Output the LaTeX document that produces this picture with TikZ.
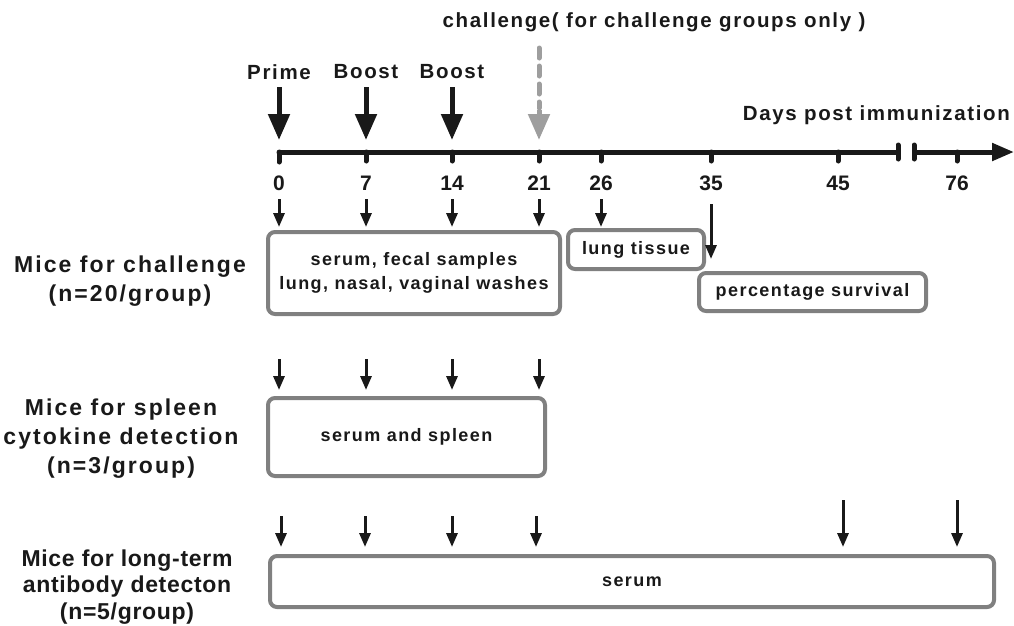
\documentclass[tikz,border=0pt]{standalone}
\usepackage{fontspec}
\setmainfont{Liberation Sans}
\usetikzlibrary{arrows.meta}
\begin{document}
\begin{tikzpicture}[x=1pt,y=-1pt,
  lbl/.style={font=\bfseries\fontsize{23}{29}\selectfont\addfontfeature{LetterSpace=9}, align=center, inner sep=0pt, text=black!90},
  toplbl/.style={font=\bfseries\fontsize{20.5}{24}\selectfont\addfontfeature{LetterSpace=8}, align=center, inner sep=0pt, text=black!90},
  boxtxt/.style={font=\bfseries\fontsize{18}{24}\selectfont\addfontfeature{LetterSpace=8}, align=center, inner sep=0pt, text=black!90},
  num/.style={font=\bfseries\fontsize{21}{22}\selectfont, inner sep=0pt, text=black!90},
  gbox/.style={draw=black!50, line width=4pt, rounded corners=7pt, fill=white},
  bigarr/.style={line width=5pt, draw=black!90, -{Triangle[width=21pt,length=26pt]}},
  smarr/.style={line width=3pt, draw=black!90, -{Triangle[width=11pt,length=14pt]}},
  axis/.style={line width=5pt, draw=black!90}
]
\useasboundingbox (0,0) rectangle (1014,625);

% timeline coordinates
\foreach \n/\x in {d0/279,d7/366,d14/452,d21/539,d26/601,d35/711,d45/838,d76/957}{
  \coordinate (\n) at (\x,152);
}
\coordinate (brA) at (898,152);
\coordinate (brB) at (914,152);
\coordinate (axend) at (1014,152);

\draw[axis, line cap=round] (d0) -- (brA);
\draw[axis, line cap=round] (279,162) -- (d0);
\draw[axis, line cap=round] (brA) ++(0,-7) -- ++(0,14);
\draw[axis, line cap=round] (brB) ++(0,-7) -- ++(0,14);
\draw[axis, -{Triangle[width=17pt,length=22pt]}] (brB) -- (axend);
\foreach \n in {d7,d14,d21,d26,d35,d45,d76}{
  \draw[axis, line cap=round] (\n) -- ++(0,9);
}

% day labels
\foreach \n/\t in {d0/0,d7/7,d14/14,d21/21,d26/26,d35/35,d45/45,d76/76}{
  \node[num] (l\n) at ([yshift=-31pt]\n) {\t};
}
\node[toplbl, anchor=east] (days) at (1010,115) {Days post immunization};

% top arrows
\node[toplbl] (prime) at (279,72) {Prime};
\node[toplbl] (boost1) at (366,72) {Boost};
\node[toplbl] (boost2) at (452,72) {Boost};
\node[toplbl] (chal) at (654,22) {challenge( for challenge groups only )};
\coordinate (pa) at (279,87); \coordinate (pb) at (279,140);
\coordinate (ba) at (366,87); \coordinate (bb) at (366,140);
\coordinate (ca) at (452,87); \coordinate (cb) at (452,140);
\coordinate (ga) at (539,48); \coordinate (gb) at (539,140);
\draw[bigarr] (pa) -- (pb);
\draw[bigarr] (ba) -- (bb);
\draw[bigarr] (ca) -- (cb);
\draw[line width=5pt, draw=black!38, dash pattern=on 10pt off 8pt, line cap=round] (ga) -- (539,108);
\draw[line width=5pt, draw=black!38, -{Triangle[width=21pt,length=26pt]}] (539,110) -- (gb);

% row 1
\node[gbox, minimum width=292pt, minimum height=82pt, anchor=north west] (box1) at (266,230) {};
\node[boxtxt] (box1t) at (box1.center) {serum, fecal samples\\lung, nasal, vaginal washes};
\node[gbox, minimum width=136pt, minimum height=39pt, anchor=north west] (box2) at (566,228) {};
\node[boxtxt] at (box2.center) {lung tissue};
\node[gbox, minimum width=227pt, minimum height=38pt, anchor=north west] (box3) at (697,271) {};
\node[boxtxt] at (box3.center) {percentage survival};
\node[lbl] (row1) at (130,281) {Mice for challenge\\(n=20/group)};
\foreach \x in {279,366,452,539,601}{
  \draw[smarr] (\x,199) -- (\x,227);
}
\draw[smarr] (711,204) -- (711,259);

% row 2
\node[gbox, minimum width=277pt, minimum height=78pt, anchor=north west] (box4) at (266,396) {};
\node[boxtxt] at (box4.center) {serum and spleen};
\node[lbl] (row2) at (121,439) {Mice for spleen\\cytokine detection\\(n=3/group)};
\foreach \x in {279,366,452,539}{
  \draw[smarr] (\x,359) -- (\x,390);
}

% row 3
\node[gbox, minimum width=724pt, minimum height=51pt, anchor=north west] (box5) at (268,554) {};
\node[boxtxt] at (box5.center) {serum};
\node[lbl, font=\bfseries\fontsize{23}{26.5}\selectfont\addfontfeature{LetterSpace=3}] (row3) at (127,587) {Mice for long-term\\antibody detecton\\(n=5/group)};
\foreach \x in {281,365,452,536}{
  \draw[smarr] (\x,516) -- (\x,547);
}
\foreach \x in {843,957}{
  \draw[smarr] (\x,500) -- (\x,547);
}
\end{tikzpicture}
\end{document}
